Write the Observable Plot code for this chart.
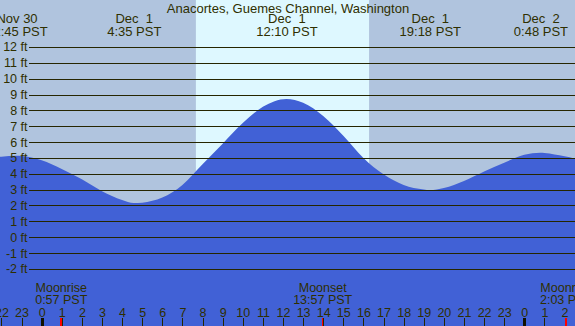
<!DOCTYPE html>
<html><head><meta charset="utf-8">
<script src="https://cdn.jsdelivr.net/npm/d3@7"></script>
<script src="https://cdn.jsdelivr.net/npm/@observablehq/plot@0.6"></script>
<style>
html,body{margin:0;padding:0;background:#b0c4de;overflow:hidden;}
svg text{white-space:pre;}
</style></head><body><div id="chart"></div>
<script>
// Hours are counted from Dec 1 00:00 PST
const tideHours = [-2.5, -2, -1.25, -1, 0, 1, 2, 3, 4, 4.58, 5, 6, 7, 8, 9, 10, 11, 12.17, 13, 14, 15, 16, 17, 18, 19, 19.3, 20, 21, 22, 23, 24, 24.8, 25, 26, 27];
const tideFeet  = [5.02, 5.08, 5.13, 5.12, 4.85, 4.3, 3.65, 2.9, 2.35, 2.15, 2.18, 2.5, 3.3, 4.6, 5.9, 7.2, 8.22, 8.72, 8.48, 7.65, 6.4, 5.0, 3.97, 3.3, 3.01, 2.97, 3.1, 3.55, 4.15, 4.7, 5.2, 5.33, 5.31, 5.1, 4.8];

const eventHours = [-1.25, 4.58, 12.17, 19.3, 24.8];
const eventDates = ["Nov 30", "Dec  1", "Dec  1", "Dec  1", "Dec  2"];
const eventTimes = ["22:45 PST", "4:35 PST", "12:10 PST", "19:18 PST", "0:48 PST"];

const moonHours = [0.95, 13.95, 26.05];
const moonNames = ["Moonrise", "Moonset", "Moonrise"];
const moonTimes = ["0:57 PST", "13:57 PST", "2:03 PST"];

const sunriseHour = 7.67;
const sunsetHour = 16.28;

const hourTicks = [-2, -1, 0, 1, 2, 3, 4, 5, 6, 7, 8, 9, 10, 11, 12, 13, 14, 15, 16, 17, 18, 19, 20, 21, 22, 23, 24, 25, 26];
const hourLabels = ["22", "23", "0", "1", "2", "3", "4", "5", "6", "7", "8", "9", "10", "11", "12", "13", "14", "15", "16", "17", "18", "19", "20", "21", "22", "23", "0", "1", "2"];
const midnightHours = [0, 24];
const feetTicks = [-2, -1, 0, 1, 2, 3, 4, 5, 6, 7, 8, 9, 10, 11, 12];
const title = "Anacortes, Guemes Channel, Washington";

const W = 575, H = 326;
const xDomain = [-2.07, 26.52];
const yDomain = [-5.6, 14.96];
const ink = "#2f2f00";
const tide = tideHours.map((t, i) => ({t, h: tideFeet[i]}));

const chart = Plot.plot({
  width: W, height: H, margin: 0,
  x: {domain: xDomain, axis: null},
  y: {domain: yDomain, axis: null},
  style: {background: "#b0c4de", fontFamily: "'Liberation Sans', Arial, sans-serif", fontSize: "12.5px", overflow: "hidden"},
  marks: [
    Plot.rect([{a: sunriseHour, b: sunsetHour}], {x1: "a", x2: "b", fill: "#def8ff"}),
    Plot.areaY(tide, {x: "t", y1: yDomain[0], y2: "h", fill: "#4161d6", curve: "monotone-x"}),
    Plot.ruleY(feetTicks, {y: d => d, insetLeft: 29, stroke: "#262600", strokeWidth: 1, shapeRendering: "crispEdges"}),
    Plot.text(feetTicks, {y: d => d, text: d => `${d} ft`, frameAnchor: "left", textAnchor: "end", dx: 27, fill: ink}),
    Plot.text([title], {text: d => d, frameAnchor: "top", lineAnchor: "top", dy: 3, fontSize: 13, fill: ink}),
    Plot.text(eventHours, {x: d => d, text: (d, i) => eventDates[i] + "\n" + eventTimes[i], frameAnchor: "top", lineAnchor: "top", dy: 14, lineHeight: 0.97, fontSize: 13, fill: ink}),
    Plot.text(moonHours, {x: d => d, text: (d, i) => moonNames[i] + "\n" + moonTimes[i], frameAnchor: "bottom", lineAnchor: "bottom", dy: -22.3, lineHeight: 0.94, fill: ink}),
    Plot.text(hourTicks, {x: d => d, text: (d, i) => hourLabels[i], frameAnchor: "bottom", lineAnchor: "bottom", dy: -10, fill: ink}),
    Plot.ruleX(hourTicks, {x: d => d, insetTop: 318, stroke: "#262600", shapeRendering: "crispEdges"}),
    Plot.ruleX(midnightHours, {x: d => d, insetTop: 318, stroke: "#111100", strokeWidth: 3, shapeRendering: "crispEdges"}),
    Plot.ruleX(moonHours, {x: d => d, insetTop: 318, stroke: "#ff0000", strokeWidth: 1.5, shapeRendering: "crispEdges"})
  ]
});
document.getElementById("chart").appendChild(chart);
</script>
</body></html>
